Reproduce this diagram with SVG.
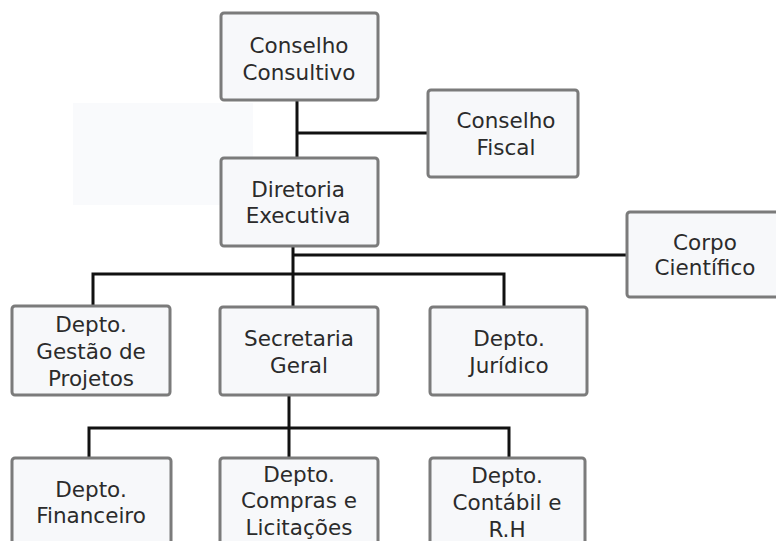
<svg xmlns="http://www.w3.org/2000/svg" width="776" height="541" viewBox="0 0 776 541">
<style>
.box{fill:#f7f8fa;stroke:#7b7b7b;stroke-width:3}
.t{font-family:"DejaVu Sans",sans-serif;font-size:21.5px;fill:#2b2b2b;text-anchor:middle}
.c{stroke:#111;stroke-width:3;fill:none}
</style>
<rect x="0" y="0" width="776" height="541" fill="#ffffff"/>
<rect x="73" y="103" width="180" height="102" fill="#f9fafc"/>
<g id="connectors">
<path class="c" d="M297 100V157M297 133H428"/>
<path class="c" d="M293 247V307M293 255H627"/>
<path class="c" d="M93 306V274H504V307"/>
<path class="c" d="M289 395V458M89 458V428H509V458"/>
</g>
<g id="conselho-consultivo"><rect class="box" x="221" y="13" width="157" height="87" rx="3"/><text class="t" x="299" y="53">Conselho</text><text class="t" x="299" y="80">Consultivo</text></g>
<g id="conselho-fiscal"><rect class="box" x="428" y="90" width="150" height="87" rx="3"/><text class="t" x="506" y="128">Conselho</text><text class="t" x="506" y="155">Fiscal</text></g>
<g id="diretoria-executiva"><rect class="box" x="221" y="158" width="157" height="88" rx="3"/><text class="t" x="298" y="197">Diretoria</text><text class="t" x="298" y="223">Executiva</text></g>
<g id="corpo-cientifico"><rect class="box" x="627" y="212" width="160" height="85" rx="3"/><text class="t" x="705" y="250">Corpo</text><text class="t" x="705" y="275">Científico</text></g>
<g id="depto-gestao"><rect class="box" x="12" y="306" width="158" height="89" rx="3"/><text class="t" x="91" y="332">Depto.</text><text class="t" x="91" y="359">Gestão de</text><text class="t" x="91" y="386">Projetos</text></g>
<g id="secretaria-geral"><rect class="box" x="220" y="307" width="158" height="88" rx="3"/><text class="t" x="299" y="346">Secretaria</text><text class="t" x="299" y="373">Geral</text></g>
<g id="depto-juridico"><rect class="box" x="430" y="307" width="157" height="88" rx="3"/><text class="t" x="509" y="346">Depto.</text><text class="t" x="509" y="373">Jurídico</text></g>
<g id="depto-financeiro"><rect class="box" x="12" y="458" width="159" height="100" rx="3"/><text class="t" x="91" y="497">Depto.</text><text class="t" x="91" y="523">Financeiro</text></g>
<g id="depto-compras"><rect class="box" x="220" y="458" width="158" height="100" rx="3"/><text class="t" x="299" y="482">Depto.</text><text class="t" x="299" y="508">Compras e</text><text class="t" x="299" y="535">Licitações</text></g>
<g id="depto-contabil"><rect class="box" x="430" y="458" width="155" height="100" rx="3"/><text class="t" x="507" y="483">Depto.</text><text class="t" x="507" y="510">Contábil e</text><text class="t" x="507" y="537">R.H</text></g>
</svg>
